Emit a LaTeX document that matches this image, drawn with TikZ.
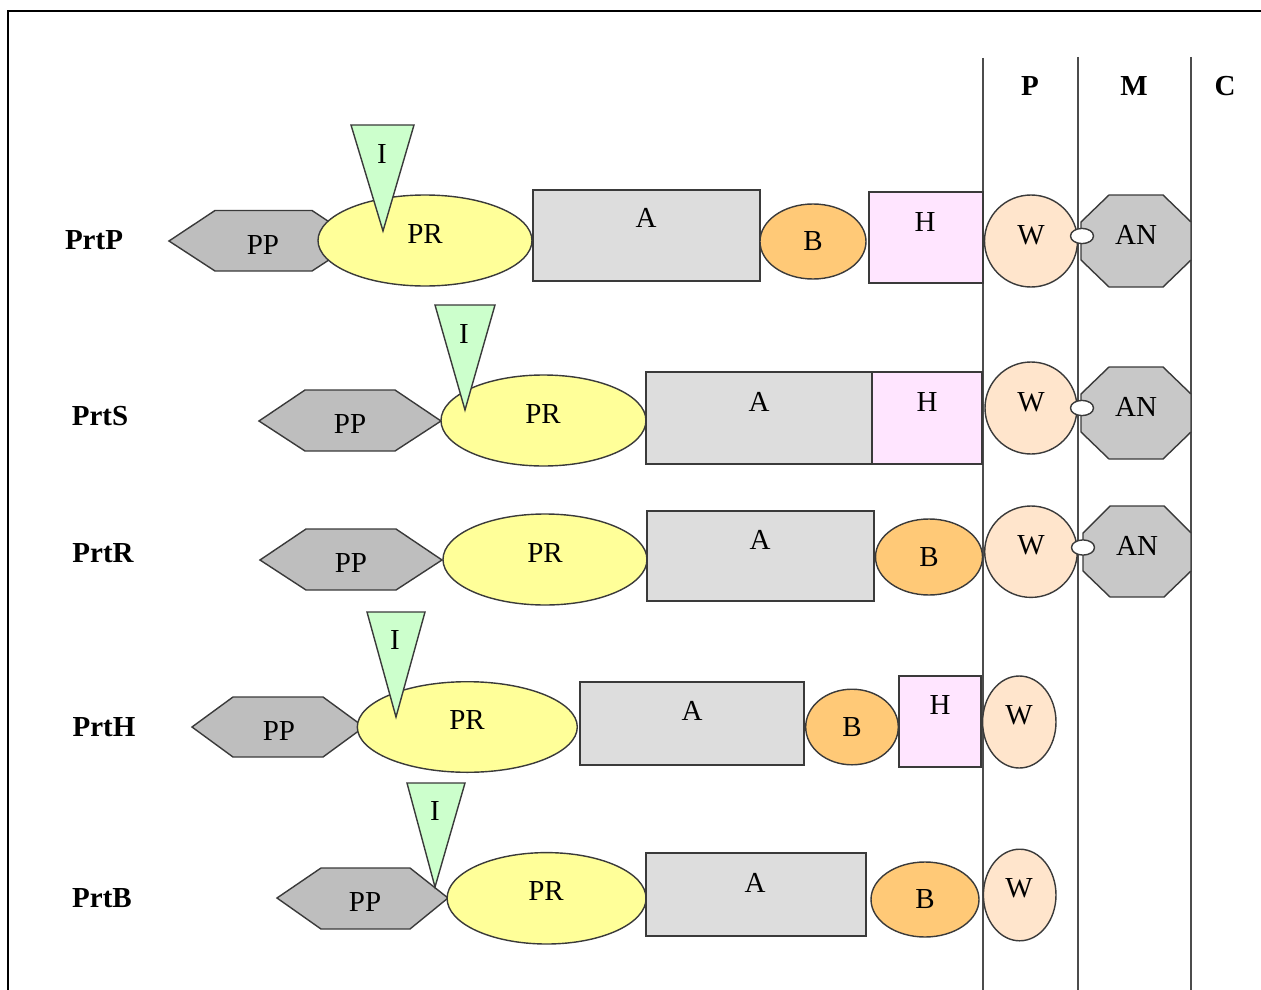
\documentclass[tikz,border=0pt]{standalone}
\usepackage{fontspec}
\setmainfont{Liberation Serif}
\usepackage{tikz}

\definecolor{ppgray}{HTML}{BEBEBE}
\definecolor{prylw}{HTML}{FFFF99}
\definecolor{igreen}{HTML}{CCFFCC}
\definecolor{agray}{HTML}{DDDDDD}
\definecolor{borng}{HTML}{FFC977}
\definecolor{hpink}{HTML}{FFE5FF}
\definecolor{wpeach}{HTML}{FFE5CC}
\definecolor{angray}{HTML}{C8C8C8}
\definecolor{edge}{HTML}{3A3A3A}

\begin{document}
\begin{tikzpicture}[x=0.02cm, y=-0.02cm,
    font=\fontsize{16.5}{19}\selectfont,
    shp/.style={draw=edge, line width=0.8pt},
    lbl/.style={font=\fontsize{16.5}{19}\selectfont\bfseries}]
    \useasboundingbox (0,0) rectangle (1261,990);

    % Outer frame (cut at the right and bottom)
    \draw[line width=1.2pt] (8,990) -- (8,11) -- (1261,11);

    % Compartment borders
    \draw[line width=0.8pt, black!70] (983,58) -- (983,990);
    \draw[line width=0.8pt, black!70] (1078,57) -- (1078,990);
    \draw[line width=0.8pt, black!70] (1191,57) -- (1191,990);
    \node[lbl] (colP) at (1030,86) {P};
    \node[lbl] (colM) at (1134,86) {M};
    \node[lbl] (colC) at (1225,86) {C};

    % ---- PrtP ----
    \node[lbl] (nameP) at (94,240) {PrtP};
    \filldraw[shp, fill=ppgray] (169,241) -- (215,210.5) -- (312,210.5) -- (358,241) -- (312,271) -- (215,271) -- cycle;
    \filldraw[shp, fill=prylw] (425,240.5) ellipse [x radius=107, y radius=45.5];
    \filldraw[shp, fill=igreen] (351,125) -- (414,125) -- (383,231) -- cycle;
    \filldraw[shp, fill=agray] (533,190) rectangle (760,281);
    \filldraw[shp, fill=borng] (813,241.5) ellipse [x radius=53, y radius=37.5];
    \filldraw[shp, fill=hpink] (869,192) rectangle (983,283);
    \filldraw[shp, fill=wpeach] (1031,241) ellipse [x radius=46.5, y radius=46];
    \filldraw[shp, fill=angray] (1109,195) -- (1163,195) -- (1191,222) -- (1191,260) -- (1163,287) -- (1109,287) -- (1081,260) -- (1081,222) -- cycle;
    \filldraw[shp, fill=white] (1082,236) ellipse [x radius=11.5, y radius=7.6];
    \node (ppP) at (263,245) {PP};
    \node (prP) at (425,234) {PR};
    \node (iP) at (382,154) {I};
    \node (aP) at (646,218) {A};
    \node (bP) at (813,241) {B};
    \node (hP) at (925,222) {H};
    \node (wP) at (1031,235) {W};
    \node (anP) at (1136,235) {AN};

    % ---- PrtS ----
    \node[lbl] (nameS) at (100,416) {PrtS};
    \filldraw[shp, fill=ppgray] (259,421) -- (305,390) -- (395,390) -- (441,421) -- (395,451) -- (305,451) -- cycle;
    \filldraw[shp, fill=prylw] (543.5,420.5) ellipse [x radius=102.5, y radius=45.5];
    \filldraw[shp, fill=igreen] (435,305) -- (495,305) -- (465,410) -- cycle;
    \filldraw[shp, fill=agray] (646,372) rectangle (872,464);
    \filldraw[shp, fill=hpink] (872,372) rectangle (982,464);
    \filldraw[shp, fill=wpeach] (1031,408) ellipse [x radius=46, y radius=46];
    \filldraw[shp, fill=angray] (1109,367) -- (1163,367) -- (1191,394) -- (1191,432) -- (1163,459) -- (1109,459) -- (1081,432) -- (1081,394) -- cycle;
    \filldraw[shp, fill=white] (1082,408) ellipse [x radius=11.5, y radius=7.6];
    \node (ppS) at (350,424) {PP};
    \node (prS) at (543,414) {PR};
    \node (iS) at (464,334) {I};
    \node (aS) at (759,402) {A};
    \node (hS) at (927,402) {H};
    \node (wS) at (1031,402) {W};
    \node (anS) at (1136,407) {AN};

    % ---- PrtR ----
    \node[lbl] (nameR) at (103,553) {PrtR};
    \filldraw[shp, fill=ppgray] (260,560) -- (306,529) -- (396,529) -- (442,560) -- (396,590) -- (306,590) -- cycle;
    \filldraw[shp, fill=prylw] (545,559.5) ellipse [x radius=102, y radius=45.5];
    \filldraw[shp, fill=agray] (647,511) rectangle (874,601);
    \filldraw[shp, fill=borng] (929,557) ellipse [x radius=53.5, y radius=38];
    \filldraw[shp, fill=wpeach] (1031,551.7) ellipse [x radius=46.3, y radius=45.7];
    \filldraw[shp, fill=angray] (1110,506) -- (1164,506) -- (1191,533) -- (1191,571) -- (1164,597) -- (1110,597) -- (1083,571) -- (1083,533) -- cycle;
    \filldraw[shp, fill=white] (1083,547.5) ellipse [x radius=11.5, y radius=7.6];
    \node (ppR) at (351,563) {PP};
    \node (prR) at (545,553) {PR};
    \node (aR) at (760,540) {A};
    \node (bR) at (929,557) {B};
    \node (wR) at (1031,545) {W};
    \node (anR) at (1137,546) {AN};

    % ---- PrtH ----
    \node[lbl] (nameH) at (104,727) {PrtH};
    \filldraw[shp, fill=ppgray] (192,727) -- (233,697) -- (323,697) -- (364,727) -- (323,757) -- (233,757) -- cycle;
    \filldraw[shp, fill=prylw] (467.3,727) ellipse [x radius=110, y radius=45.3];
    \filldraw[shp, fill=igreen] (367,612) -- (425,612) -- (396,717) -- cycle;
    \filldraw[shp, fill=agray] (580,682) rectangle (804,765);
    \filldraw[shp, fill=borng] (852,727) ellipse [x radius=46.3, y radius=37.8];
    \filldraw[shp, fill=hpink] (899,676) rectangle (981,767);
    \filldraw[shp, fill=wpeach] (1019.3,722) ellipse [x radius=36.7, y radius=46];
    \node (ppH) at (279,731) {PP};
    \node (prH) at (467,720) {PR};
    \node (iH) at (395,640) {I};
    \node (aH) at (692,711) {A};
    \node (bH) at (852,727) {B};
    \node (hH) at (940,705) {H};
    \node (wH) at (1019,715) {W};

    % ---- PrtB ----
    \node[lbl] (nameB) at (102,898) {PrtB};
    \filldraw[shp, fill=ppgray] (277,898) -- (321,868) -- (410,868) -- (448,898) -- (410,929) -- (321,929) -- cycle;
    \filldraw[shp, fill=prylw] (546.6,898.3) ellipse [x radius=99.5, y radius=45.7];
    \filldraw[shp, fill=igreen] (407,783) -- (465,783) -- (435,887) -- cycle;
    \filldraw[shp, fill=agray] (646,853) rectangle (866,936);
    \filldraw[shp, fill=borng] (925,899.5) ellipse [x radius=54, y radius=37.5];
    \filldraw[shp, fill=wpeach] (1019.7,895) ellipse [x radius=36.3, y radius=45.8];
    \node (ppB) at (365,902) {PP};
    \node (prB) at (546,891) {PR};
    \node (iB) at (435,811) {I};
    \node (aB) at (755,883) {A};
    \node (bB) at (925,899) {B};
    \node (wB) at (1019,888) {W};

\end{tikzpicture}
\end{document}
